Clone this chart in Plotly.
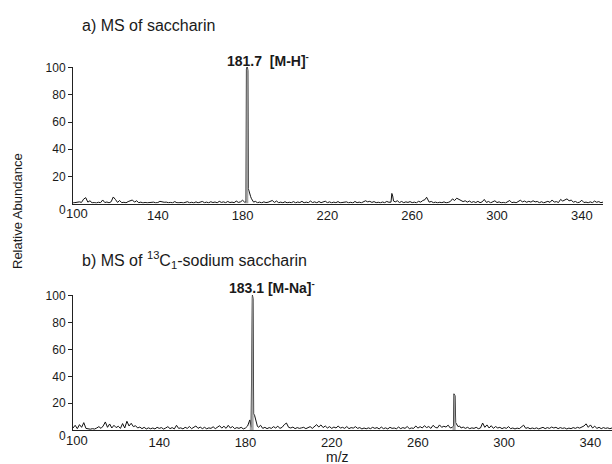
import plotly.graph_objects as go

# ---------------- data ----------------
mz_a = [100, 101, 102, 103, 104, 105, 106, 107, 108, 109,
        110, 111, 112, 113, 114, 115, 116, 117, 118, 119,
        120, 121, 122, 123, 124, 125, 126, 127, 128, 129,
        130, 131, 132, 133, 134, 135, 136, 137, 138, 139,
        140, 141, 142, 143, 144, 145, 146, 147, 148, 149,
        150, 151, 152, 153, 154, 155, 156, 157, 158, 159,
        160, 161, 162, 163, 164, 165, 166, 167, 168, 169,
        170, 171, 172, 173, 174, 175, 176, 177, 178, 179,
        180, 181, 181.6, 181.8, 182.2, 182.5, 182.7, 183.0, 183.4, 183.8,
        184.2, 184.7, 185.2, 186, 187, 188, 189, 190, 191, 192,
        193, 194, 195, 196, 197, 198, 199,
        200, 201, 202, 203, 204, 205, 206, 207, 208, 209,
        210, 211, 212, 213, 214, 215, 216, 217, 218, 219,
        220, 221, 222, 223, 224, 225, 226, 227, 228, 229,
        230, 231, 232, 233, 234, 235, 236, 237, 238, 239,
        240, 241, 242, 243, 244, 245, 246, 247, 248, 249,
        250, 250.4, 250.8, 251.2, 252, 253, 254, 255, 256, 257,
        258, 259, 260, 261, 262, 263, 264, 265, 266, 266.8,
        267.4, 268, 269, 270, 271, 272, 273, 274, 275, 276,
        277, 278, 279, 280, 281, 282, 283, 284, 285, 286,
        287, 288, 289, 290, 291, 292, 293, 294, 295, 296,
        297, 298, 299, 300, 301, 302, 303, 304, 305, 306,
        307, 308, 309, 310, 311, 312, 313, 314, 315, 316,
        317, 318, 319, 320, 321, 322, 323, 324, 325, 326,
        327, 328, 329, 330, 331, 332, 333, 334, 335, 336,
        337, 338, 339, 340, 341, 342, 343, 344, 345, 346,
        347, 348, 349, 350]
ab_a = [0.4, 0.6, 0.5, 1.2, 0.8, 3.2, 4.3, 1.0, 2.0, 0.5,
        0.7, 0.4, 0.9, 0.6, 2.6, 0.7, 1.1, 0.5, 1.3, 4.8,
        3.0, 0.8, 2.2, 0.6, 0.9, 0.5, 1.4, 2.0, 2.6, 1.0,
        2.0, 0.6, 1.0, 0.4, 0.8, 0.5, 0.6, 0.4, 1.0, 0.5,
        0.7, 1.6, 1.2, 0.9, 1.0, 0.6, 0.8, 0.5, 1.4, 0.6,
        0.5, 0.8, 0.4, 0.6, 1.3, 0.5, 0.9, 0.4, 1.2, 0.5,
        0.8, 1.5, 0.6, 1.0, 0.5, 1.3, 0.7, 1.1, 0.5, 1.6,
        0.8, 1.2, 0.6, 1.5, 0.7, 1.0, 0.6, 1.8, 0.8, 1.2,
        2.4, 0.9, 1.0, 99.0, 101.0, 98.0, 11.0, 9.0, 7.0, 5.0,
        3.5, 2.0, 1.0, 1.6, 0.6, 1.0, 0.5, 1.2, 0.7, 0.9,
        1.4, 2.2, 0.8, 1.8, 0.6, 1.0, 0.5,
        1.3, 0.5, 0.9, 0.6, 1.4, 0.5, 1.1, 0.7, 1.6, 0.5,
        1.0, 0.6, 1.8, 0.7, 1.2, 0.5, 1.5, 0.6, 0.9, 1.7,
        0.6, 1.2, 0.5, 1.0, 0.6, 1.4, 0.5, 0.8, 0.6, 1.2,
        0.5, 0.9, 0.4, 1.5, 0.6, 1.0, 0.5, 1.3, 2.0, 1.2,
        1.6, 0.8, 1.4, 0.6, 0.9, 0.5, 1.1, 0.6, 1.5, 0.9,
        1.0, 7.4, 5.5, 1.8, 1.2, 2.0, 0.7, 1.5, 0.6, 1.2,
        0.8, 1.4, 0.6, 1.0, 0.5, 1.6, 1.0, 2.2, 2.8, 4.6,
        3.2, 1.0, 1.5, 0.6, 1.0, 0.5, 0.9, 0.6, 1.2, 0.5,
        0.8, 1.5, 3.4, 2.2, 3.9, 3.0, 2.6, 1.4, 2.0, 1.0,
        1.8, 0.8, 1.4, 0.7, 1.6, 0.6, 1.2, 3.0, 0.8, 1.5,
        0.5, 1.0, 2.0, 0.7, 1.2, 0.5, 0.8, 0.4, 1.4, 2.2,
        0.6, 1.0, 0.5, 1.5, 2.4, 1.2, 1.8, 0.9, 1.6, 1.0,
        2.0, 1.2, 1.5, 0.6, 1.3, 0.5, 1.1, 1.6, 0.8, 2.6,
        1.0, 1.4, 0.7, 3.0, 1.8, 2.6, 3.4, 2.0, 2.5, 1.0,
        1.5, 0.6, 1.0, 2.4, 0.7, 1.0, 0.5, 1.2, 0.6, 1.8,
        0.9, 1.4, 0.6, 1.0]

mz_b = [100, 101, 102, 103, 104, 105, 106, 107, 108, 109,
        110, 111, 112, 113, 114, 115, 116, 117, 118, 119,
        120, 121, 122, 123, 124, 125, 126, 127, 128, 129,
        130, 131, 132, 133, 134, 135, 136, 137, 138, 139,
        140, 141, 142, 143, 144, 145, 146, 147, 148, 149,
        150, 151, 152, 153, 154, 155, 156, 157, 158, 159,
        160, 161, 162, 163, 164, 165, 166, 167, 168, 169,
        170, 171, 172, 173, 174, 175, 176, 177, 178, 179,
        180, 181, 182, 182.6, 182.9, 183.2, 183.5, 183.8, 184.2, 184.6,
        185.0, 185.5, 186, 187, 188, 189, 190, 191, 192, 193,
        194, 195, 196, 197, 198, 199,
        200, 201, 202, 203, 204, 205, 206, 207, 208, 209,
        210, 211, 212, 213, 214, 215, 216, 217, 218, 219,
        220, 221, 222, 223, 224, 225, 226, 227, 228, 229,
        230, 231, 232, 233, 234, 235, 236, 237, 238, 239,
        240, 241, 242, 243, 244, 245, 246, 247, 248, 249,
        250, 251, 252, 253, 254, 255, 256, 257, 258, 259,
        260, 261, 262, 263, 264, 265, 266, 267, 268, 269,
        270, 271, 272, 273, 274, 275, 276, 276.5, 276.7, 277.2,
        277.5, 278.0, 278.6, 279.3, 280, 281, 282, 283, 284, 285,
        286, 287, 288, 289, 290, 291, 292, 293, 294, 295,
        296, 297, 298, 299, 300, 301, 302, 303, 304, 305,
        306, 307, 308, 309, 310, 311, 312, 313, 314, 315,
        316, 317, 318, 319, 320, 321, 322, 323, 324, 325,
        326, 327, 328, 329, 330, 331, 332, 333, 334, 335,
        336, 337, 338, 339, 340, 341, 342, 343, 344, 345,
        346, 347, 348, 349, 350]
ab_b = [1.5, 3.5, 1.0, 4.0, 2.0, 5.5, 1.2, 0.8, 0.6, 1.0,
        0.7, 1.5, 2.5, 1.2, 3.0, 6.0, 2.0, 4.5, 1.5, 3.5,
        1.8, 2.8, 1.2, 4.8, 1.5, 6.5, 3.0, 5.0, 2.5, 3.2,
        1.5, 2.2, 1.0, 2.0, 0.8, 1.6, 0.9, 1.5, 0.8, 2.0,
        1.2, 1.8, 0.7, 1.5, 2.5, 1.0, 1.8, 0.8, 3.5, 1.2,
        1.6, 0.8, 2.0, 1.2, 2.6, 1.0, 1.8, 3.0, 1.2, 2.2,
        1.0, 2.0, 0.9, 1.6, 1.2, 2.4, 1.0, 2.0, 3.2, 1.4,
        2.8, 1.2, 3.5, 1.5, 2.6, 1.0, 1.8, 1.2, 2.0, 0.8,
        1.5, 3.0, 7.5, 2.0, 99.0, 101.0, 98.0, 12.0, 11.0, 8.5,
        5.0, 3.0, 2.0, 3.5, 1.2, 2.0, 1.0, 1.8, 1.2, 2.5,
        1.5, 2.8, 1.2, 2.0, 4.0, 5.2,
        2.0, 1.5, 2.2, 1.0, 1.8, 1.2, 1.6, 2.0, 1.0, 1.8,
        2.5, 1.2, 3.0, 4.0, 2.2, 3.8, 1.8, 3.0, 1.5, 2.5,
        1.2, 2.2, 1.5, 3.0, 1.4, 2.0, 1.2, 2.6, 1.0, 1.8,
        1.4, 2.5, 1.2, 1.8, 0.8, 1.5, 0.9, 1.6, 1.0, 2.0,
        1.2, 1.8, 0.8, 2.2, 1.0, 1.6, 0.8, 2.0, 1.2, 1.5,
        0.9, 2.2, 1.0, 1.8, 1.2, 2.6, 1.0, 1.5, 1.2, 3.0,
        1.4, 2.5, 1.5, 3.2, 1.8, 2.6, 1.2, 3.5, 2.0, 1.5,
        3.8, 2.0, 2.8, 2.2, 3.6, 1.5, 2.0, 3.0, 27.0, 25.5,
        5.5, 4.0, 2.5, 3.0, 1.5, 2.2, 1.2, 2.0, 1.0, 1.6,
        1.2, 2.0, 1.0, 1.5, 5.2, 2.0, 3.8, 1.5, 3.2, 1.2,
        2.6, 1.5, 2.0, 1.0, 1.8, 1.2, 2.5, 1.0, 1.5, 0.8,
        1.4, 1.0, 2.0, 3.6, 1.2, 1.8, 0.9, 1.5, 1.0, 1.6,
        0.8, 1.2, 2.0, 1.0, 1.8, 1.2, 2.2, 1.5, 2.0, 1.0,
        1.8, 1.2, 1.6, 0.8, 1.4, 1.0, 1.8, 1.2, 2.0, 1.4,
        2.2, 3.0, 4.6, 2.0, 3.8, 1.5, 2.8, 1.2, 2.0, 1.0,
        1.8, 1.2, 1.6, 1.0, 1.5]

# m/z windows of the dominant peaks (their interior is shaded grey)
peak_windows_a = [(181.0, 182.7)]
peak_windows_b = [(182.0, 183.8), (276.0, 277.5)]

x_ticks = [100, 140, 180, 220, 260, 300, 340]
x_tick_text = ["", "140", "180", "220", "260", "300", "340"]
y_ticks = [20, 40, 60, 80, 100]
title_a = "a) MS of saccharin"
title_b = "b) MS of <sup>13</sup>C<sub>1</sub>-sodium saccharin"
peak_a = "181.7  [M-H]<sup>-</sup>"
peak_b = "183.1 [M-Na]<sup>-</sup>"
y_title = "Relative Abundance"
x_title = "m/z"

# ---------------- layout geometry (pixels) ----------------
W, H = 612, 464
L = 73
PW = W - L


def px(xp):
    return (xp - L) / PW


def py(yp):
    return 1 - yp / H


FONT = "Arial, Liberation Sans, sans-serif"
TXT = "#1a1a1a"

fig = go.Figure()
for mz, ab, wins, xa, ya in [(mz_a, ab_a, peak_windows_a, "x", "y"),
                             (mz_b, ab_b, peak_windows_b, "x2", "y2")]:
    fig.add_trace(go.Scatter(
        x=mz, y=ab, mode="lines", xaxis=xa, yaxis=ya,
        line=dict(color="#111111", width=1),
        showlegend=False, hoverinfo="skip"))
    for lo, hi in wins:
        sel = [(m, a) for m, a in zip(mz, ab) if lo <= m <= hi]
        fig.add_trace(go.Scatter(
            x=[s[0] for s in sel], y=[s[1] for s in sel], mode="lines",
            xaxis=xa, yaxis=ya, line=dict(width=0, color="#999999"),
            fill="tozeroy", fillcolor="rgba(150,150,150,0.85)",
            showlegend=False, hoverinfo="skip"))

xcommon = dict(range=[100, 350], showgrid=False, zeroline=False,
               showline=True, linecolor="#222", linewidth=1,
               ticks="", tickvals=x_ticks, ticktext=x_tick_text,
               tickfont=dict(family=FONT, size=13, color=TXT))
ycommon = dict(showgrid=False, zeroline=False,
               showline=True, linecolor="#222", linewidth=1,
               ticks="outside", ticklen=4, tickcolor="#222", tickwidth=1,
               tickvals=y_ticks,
               tickfont=dict(family=FONT, size=12, color=TXT))

fig.update_layout(
    width=W, height=H,
    margin=dict(l=L, r=0, t=0, b=0, autoexpand=False),
    paper_bgcolor="white", plot_bgcolor="white",
    xaxis=dict(domain=[0, px(603)], anchor="y", **xcommon),
    yaxis=dict(domain=[py(203.5), py(67.0)], range=[0, 100.5], anchor="x", **ycommon),
    xaxis2=dict(domain=[0, 1], anchor="y2", **xcommon),
    yaxis2=dict(domain=[py(430), py(295.3)], range=[0, 100.5], anchor="x2", **ycommon),
)

ann = []
# "0" (y origin) and "100" (x origin) labels, drawn as in the original
for ypix_base in (203.5, 430):
    ann.append(dict(x=px(57), y=py(ypix_base + 6), xref="paper", yref="paper",
                    text="0", showarrow=False, xanchor="left", yanchor="middle",
                    font=dict(family=FONT, size=12, color=TXT)))
    ann.append(dict(x=px(77), y=py(ypix_base + 10), xref="paper", yref="paper",
                    text="100", showarrow=False, xanchor="center", yanchor="middle",
                    font=dict(family=FONT, size=13, color=TXT)))

ann += [
    dict(x=px(80), y=py(25), xref="paper", yref="paper", text=title_a,
         showarrow=False, xanchor="left", yanchor="middle",
         font=dict(family=FONT, size=16, color=TXT)),
    dict(x=px(80), y=py(260), xref="paper", yref="paper", text=title_b,
         showarrow=False, xanchor="left", yanchor="middle",
         font=dict(family=FONT, size=16, color=TXT)),
    dict(x=px(225), y=py(60), xref="paper", yref="paper", text="<b>" + peak_a + "</b>",
         showarrow=False, xanchor="left", yanchor="middle",
         font=dict(family=FONT, size=14, color=TXT)),
    dict(x=px(227), y=py(287), xref="paper", yref="paper", text="<b>" + peak_b + "</b>",
         showarrow=False, xanchor="left", yanchor="middle",
         font=dict(family=FONT, size=14, color=TXT)),
    dict(x=px(18), y=py(211), xref="paper", yref="paper", text=y_title,
         showarrow=False, textangle=-90, xanchor="center", yanchor="middle",
         font=dict(family=FONT, size=13, color=TXT)),
    dict(x=px(337), y=py(457), xref="paper", yref="paper", text=x_title,
         showarrow=False, xanchor="center", yanchor="middle",
         font=dict(family=FONT, size=14, color=TXT)),
]
fig.update_layout(annotations=ann)

fig.write_html("out.html", config={"displayModeBar": False},
               post_script="document.body.style.margin='0px';document.body.style.overflow='hidden';")
